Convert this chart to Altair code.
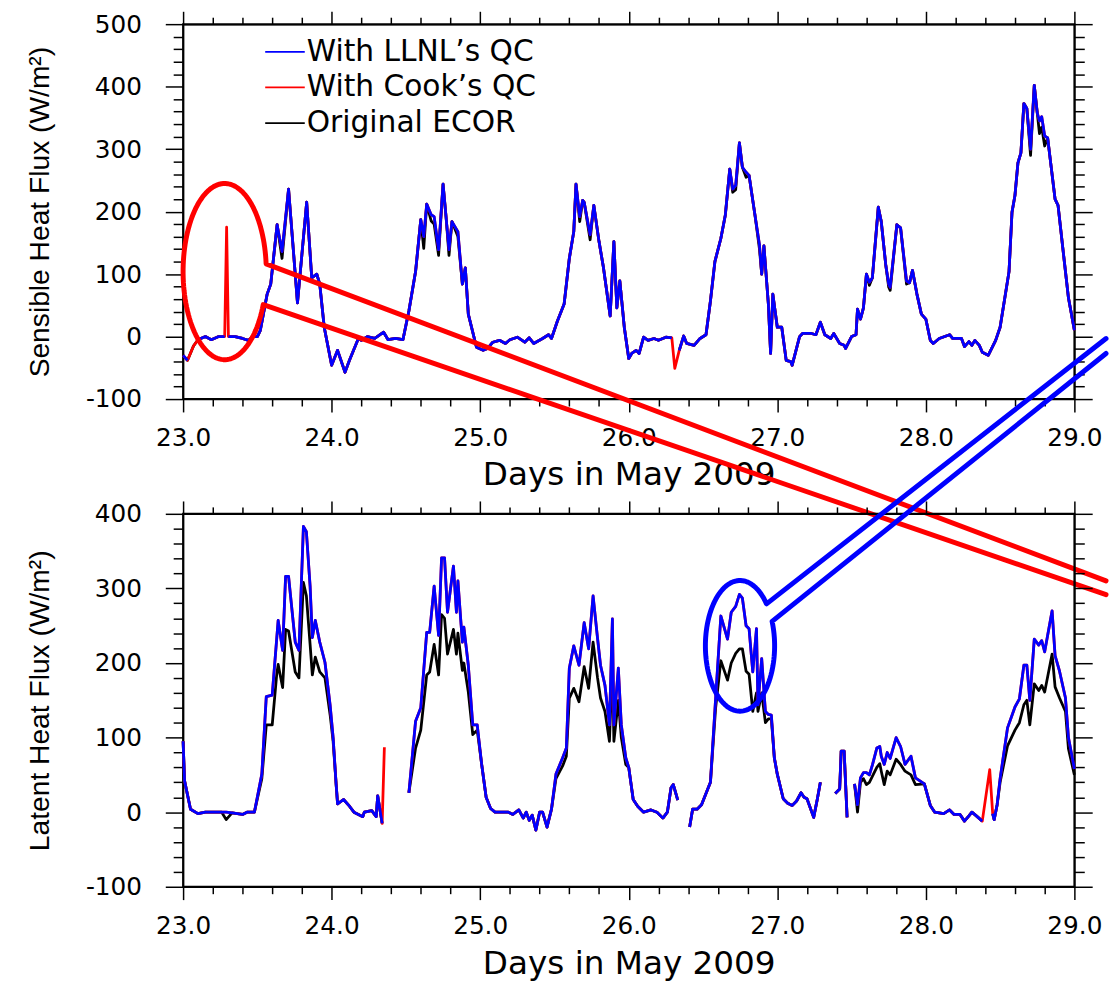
import numpy as np
import pandas as pd
import altair as alt

SERIES = ["With LLNL’s QC", "With Cook’s QC", "Original ECOR"]
COLORS = ["#0000ff", "#ff0000", "#000000"]

# ---------------- top panel: sensible heat flux (W/m2) ----------------
top_llnl = [
    (23.00, -30), (23.03, -38), (23.07, None), (23.10, -5), (23.15, 0), (23.19, -5), (23.24, 0), (23.28, 0),
    (23.293, None), (23.305, 0), (23.35, 0), (23.40, -3), (23.44, -6), (23.47, 0), (23.50, 0), (23.52, 10),
    (23.566, 68), (23.59, 84), (23.633, 179), (23.666, 136), (23.71, 236), (23.77, 54), (23.832, 215),
    (23.866, 94), (23.90, 100), (23.92, 84), (23.95, 15), (24.00, -46), (24.04, -22), (24.09, -57),
    (24.12, -38), (24.18, -3), (24.20, -6), (24.24, 0), (24.29, -3), (24.35, 7), (24.38, -5), (24.43, -3),
    (24.48, -5), (24.52, 41), (24.565, 104), (24.60, 187), (24.62, 160), (24.64, 212), (24.67, 195),
    (24.69, 192), (24.72, 139), (24.75, 244), (24.77, 192), (24.79, 139), (24.81, 184), (24.85, 168),
    (24.88, 84), (24.90, 110), (24.92, 36), (24.975, -17), (25.02, -22), (25.05, -19), (25.085, -9),
    (25.13, -6), (25.17, -11), (25.20, -5), (25.25, -1), (25.30, -9), (25.33, -2), (25.36, -11), (25.42, -3),
    (25.46, 3), (25.48, -3), (25.52, 25), (25.565, 52), (25.60, 125), (25.63, 168), (25.645, 244),
    (25.67, 192), (25.69, 218), (25.70, 215), (25.74, 163), (25.765, 210), (25.80, 152), (25.83, 110),
    (25.875, 33), (25.90, 152), (25.92, 46), (25.94, 89), (25.97, 15), (26.00, -35), (26.02, -27),
    (26.05, -22), (26.07, -27), (26.10, -1), (26.13, -6), (26.17, -3), (26.20, -6), (26.25, -1), (26.29, -2),
    (26.31, None), (26.34, -22), (26.37, 1), (26.39, -11), (26.44, -14), (26.48, -3), (26.52, 3), (26.55, 57),
    (26.58, 120), (26.62, 157), (26.65, 194), (26.68, 268), (26.70, 236), (26.72, 242), (26.745, 310),
    (26.765, 271), (26.79, 263), (26.81, 258), (26.85, 194), (26.88, 147), (26.895, 100), (26.91, 145),
    (26.94, 52), (26.955, -27), (26.97, 68), (27.00, 15), (27.03, 15), (27.06, -38), (27.09, -40),
    (27.10, -46), (27.15, 0), (27.17, 5), (27.23, 5), (27.26, 3), (27.29, 23), (27.32, 3), (27.36, -3),
    (27.38, 5), (27.42, -11), (27.45, -14), (27.46, -19), (27.50, 0), (27.53, 3), (27.54, 44), (27.56, 28),
    (27.58, 46), (27.60, 100), (27.62, 87), (27.64, 94), (27.68, 207), (27.70, 184), (27.73, 115),
    (27.75, 84), (27.76, 79), (27.805, 179), (27.83, 174), (27.87, 89), (27.89, 86), (27.91, 106),
    (27.94, 68), (27.97, 36), (28.00, 28), (28.03, -6), (28.05, -11), (28.09, -3), (28.16, 3), (28.18, -3),
    (28.24, -3), (28.26, -16), (28.29, -8), (28.31, -14), (28.33, -6), (28.36, -14), (28.38, -25),
    (28.42, -30), (28.47, -6), (28.50, 15), (28.56, 104), (28.58, 199), (28.60, 226), (28.62, 278),
    (28.64, 294), (28.66, 373), (28.68, 365), (28.705, 300), (28.73, 402), (28.75, 358), (28.765, 345),
    (28.78, 352), (28.80, 321), (28.82, 318), (28.87, 220), (28.89, 210), (28.93, 125), (28.96, 62),
    (29.00, 10),
]
top_cook_diff = {23.07: -15, 23.293: 175, 26.31: -51}
top_ecor_diff = {
    23.07: -15, 23.666: 125, 24.62: 141, 24.67: 185, 24.69: 180, 24.72: 130, 24.79: 130, 24.85: 160,
    25.67: 184, 25.74: 155, 26.70: 231, 26.72: 235, 26.79: 255, 26.88: 140, 27.62: 82, 27.75: 79,
    27.76: 74, 27.87: 84, 28.705: 290, 28.765: 325, 28.78: 335, 28.80: 305,
}

# ---------------- bottom panel: latent heat flux (W/m2) ----------------
bot_llnl = [
    (23.00, 95), (23.01, 42), (23.05, 4), (23.10, -2), (23.15, 0), (23.26, 0), (23.29, 0), (23.33, -1),
    (23.40, -3), (23.43, 0), (23.48, 0), (23.53, 51), (23.56, 155), (23.60, 157), (23.63, 232), (23.64, 257),
    (23.67, 217), (23.69, 316), (23.71, 316), (23.755, 228), (23.78, 217), (23.81, 383), (23.83, 376),
    (23.855, 303), (23.87, 234), (23.89, 257), (23.92, 228), (23.955, 201), (23.99, 143), (24.01, 100),
    (24.03, 38), (24.04, 11), (24.08, 17), (24.12, 8), (24.15, 0), (24.21, -6), (24.22, 0), (24.27, 2),
    (24.30, -6), (24.31, 22), (24.34, -15), (24.355, None), (24.44, None), (24.52, 26), (24.565, 122),
    (24.60, 140), (24.64, 241), (24.66, 241), (24.69, 303), (24.72, 237), (24.74, 341), (24.76, 341),
    (24.78, 268), (24.82, 330), (24.84, 268), (24.85, 310), (24.88, 228), (24.89, 248), (24.92, 197),
    (24.95, 117), (24.98, 117), (25.01, 64), (25.04, 20), (25.07, 5), (25.10, 0), (25.19, 0), (25.22, -3),
    (25.26, 3), (25.29, -8), (25.31, 0), (25.33, -11), (25.35, -4), (25.375, -24), (25.40, 0), (25.42, 0),
    (25.45, -20), (25.48, 4), (25.51, 51), (25.555, 73), (25.58, 86), (25.60, 193), (25.63, 223),
    (25.665, 197), (25.70, 254), (25.73, 219), (25.76, 290), (25.79, 233), (25.81, 197), (25.84, 170),
    (25.87, 117), (25.89, 259), (25.90, 117), (25.93, 193), (25.95, 117), (25.98, 73), (26.00, 60),
    (26.03, 17), (26.06, 8), (26.10, 0), (26.15, 3), (26.19, 0), (26.23, -8), (26.26, 0), (26.285, 33),
    (26.30, 37), (26.33, 16), (26.37, None), (26.41, -20), (26.43, 4), (26.46, 4), (26.49, 10), (26.52, 25),
    (26.55, 40), (26.585, 153), (26.62, 263), (26.665, 232), (26.69, 268), (26.72, 276), (26.745, 292),
    (26.765, 287), (26.79, 250), (26.81, 246), (26.835, 188), (26.86, 246), (26.87, 144), (26.895, 206),
    (26.92, 135), (26.94, 131), (26.96, 130), (26.98, 73), (27.00, 51), (27.04, 18), (27.07, 12),
    (27.10, 9), (27.13, 15), (27.16, 26), (27.18, 20), (27.20, 18), (27.245, -7), (27.27, 18), (27.29, 40),
    (27.34, None), (27.39, 25), (27.42, 31), (27.43, 82), (27.45, 82), (27.47, -7), (27.49, None),
    (27.52, 38), (27.54, 10), (27.56, 46), (27.58, 53), (27.60, 53), (27.62, 50), (27.64, 63), (27.67, 86),
    (27.69, 88), (27.70, 75), (27.72, 64), (27.74, 80), (27.76, 72), (27.80, 100), (27.83, 88), (27.86, 64),
    (27.90, 75), (27.93, 46), (27.99, 38), (28.03, 9), (28.06, 0), (28.12, -2), (28.16, 3), (28.19, -3),
    (28.23, -3), (28.26, -12), (28.29, -5), (28.31, 0), (28.34, -5), (28.38, -12), (28.43, None),
    (28.45, -2), (28.46, -10), (28.48, 10), (28.50, 45), (28.55, 113), (28.60, 141), (28.63, 152),
    (28.66, 197), (28.68, 197), (28.70, 150), (28.73, 232), (28.76, 224), (28.78, 230), (28.80, 215),
    (28.85, 270), (28.87, 210), (28.90, 189), (28.94, 153), (28.96, 100), (29.00, 58),
]
bot_cook_diff = {24.355: 87, 28.43: 57}
bot_ecor_diff = {
    23.29: -10, 23.53: 45, 23.56: 117, 23.60: 117, 23.63: 184, 23.64: 198, 23.67: 167, 23.69: 245,
    23.71: 243, 23.755: 188, 23.78: 180, 23.81: 308, 23.83: 290, 23.855: 225, 23.87: 184, 23.89: 208,
    23.92: 188, 23.955: 180, 23.99: 130, 24.01: 95,
    24.565: 86, 24.60: 110, 24.64: 184, 24.66: 188, 24.69: 225, 24.72: 184, 24.74: 265, 24.76: 260,
    24.78: 212, 24.82: 245, 24.84: 212, 24.85: 240, 24.88: 190, 24.89: 200, 24.92: 161, 24.95: 104,
    24.98: 110,
    25.51: 45, 25.555: 62, 25.58: 75, 25.60: 153, 25.63: 166, 25.665: 148, 25.70: 195, 25.73: 166,
    25.76: 228, 25.79: 180, 25.81: 153, 25.84: 135, 25.87: 95, 25.89: 200, 25.90: 95, 25.93: 150,
    25.95: 100, 25.98: 64,
    26.585: 140, 26.62: 203, 26.665: 177, 26.69: 200, 26.72: 213, 26.745: 219, 26.765: 219, 26.79: 189,
    26.81: 185, 26.835: 135, 26.86: 160, 26.87: 135, 26.895: 160, 26.92: 120, 26.94: 125, 26.96: 125,
    27.54: 0, 27.56: 40, 27.58: 45, 27.60: 37, 27.62: 40, 27.64: 48, 27.67: 60, 27.69: 65, 27.70: 55,
    27.72: 37, 27.74: 55, 27.76: 50, 27.80: 71, 27.83: 64, 27.86: 55, 27.90: 50, 27.93: 37,
    28.50: 40, 28.55: 89, 28.60: 110, 28.63: 120, 28.66: 144, 28.68: 150, 28.70: 117, 28.73: 172,
    28.76: 163, 28.78: 170, 28.80: 161, 28.85: 212, 28.87: 168, 28.90: 153, 28.94: 135, 28.96: 85,
    29.00: 50,
}

# ---------------- callout annotations (data units of each panel) ----------------
red_center, red_radii, red_arc = (23.28, 104.0), (0.28, 141.0), (5, 338)
red_far = [(29.213, -391.0), (29.213, -413.0)]
blue_center, blue_radii, blue_arc = (26.749, 223.0), (0.233, 87.6), (40, 382)
blue_far = [(29.213, 635.0), (29.213, 615.0)]

# axis tick values (major + minor)
x_ticks = [round(23 + 0.2 * i, 1) for i in range(31)]
top_y_ticks = list(range(-100, 501, 20))
bot_y_ticks = list(range(-100, 401, 20))

FONT = "DejaVu Sans"
YFONT = "Liberation Sans"


def series_frame(llnl, cook_diff, ecor_diff):
    rows = []
    for name in SERIES:
        seg = 0
        for d, v in llnl:
            if name == SERIES[0]:
                val = v
            elif name == SERIES[1]:
                val = cook_diff.get(d, v)
            else:
                val = ecor_diff.get(d, v)
            if val is None:
                seg += 1
                continue
            rows.append({"day": d, "value": val, "series": name, "seg": seg})
    return pd.DataFrame(rows)


def callout_frame(center, radii, arc, far):
    t = np.radians(np.linspace(arc[0], arc[1], 120))
    pts = [far[0]] + list(zip(center[0] + radii[0] * np.cos(t), center[1] + radii[1] * np.sin(t))) + [far[1]]
    return pd.DataFrame({"day": [p[0] for p in pts], "value": [p[1] for p in pts], "k": list(range(len(pts)))})


X_MAJOR = "abs(datum.value - round(datum.value)) < 0.001"
Y_MAJOR = "abs(datum.value % 100) < 0.001"


def x_axis(orient, title=None, title_y=86):
    kw = dict(
        orient=orient, values=x_ticks, grid=False, domainColor="black", domainWidth=1.5,
        tickColor="black", tickWidth=1.5, tickSize=alt.ExprRef(expr=f"{X_MAJOR} ? 13 : 7"),
    )
    if title:
        kw.update(
            labels=True, labelExpr=f"{X_MAJOR} ? format(datum.value, '.1f') : ''", labelFont=FONT,
            labelFontSize=25, labelColor="black", labelPadding=14, labelFlush=False, labelOverlap=False,
            title=title, titleFont=FONT, titleFontSize=33, titleFontWeight="normal", titleColor="black",
            titleX=450.5, titleY=title_y, titleBaseline="alphabetic", titleAlign="center",
        )
    else:
        kw.update(labels=False, title=None)
    return alt.Axis(**kw)


def y_axis(orient, values, height, title=None):
    kw = dict(
        orient=orient, values=values, grid=False, domainColor="black", domainWidth=1.5,
        tickColor="black", tickWidth=1.5, tickSize=alt.ExprRef(expr=f"{Y_MAJOR} ? 18 : 10"),
    )
    if title:
        kw.update(
            labels=True, labelExpr=f"{Y_MAJOR} ? '' + datum.value : ''", labelFont=FONT,
            labelFontSize=25, labelColor="black", labelPadding=24, labelOverlap=False,
            title=title, titleFont=YFONT, titleFontSize=28.5, titleFontWeight="normal", titleColor="black",
            titleX=-136, titleY=height / 2, titleAngle=270, titleBaseline="alphabetic", titleAlign="center",
        )
    else:
        kw.update(labels=False, title=None)
    return alt.Axis(**kw)


def panel(llnl, cook_diff, ecor_diff, ydom, yticks, ytitle, height, callout, ann_color, show_legend, title_y):
    df = series_frame(llnl, cook_diff, ecor_diff)
    ann = callout_frame(*callout)
    xs = alt.Scale(domain=[23, 29], nice=False, zero=False)
    ys = alt.Scale(domain=ydom, nice=False, zero=False)
    xax = x_axis("bottom", "Days in May 2009", title_y)
    yax = y_axis("left", yticks, height, ytitle)
    if show_legend:
        leg = alt.Legend(
            orient="none", legendX=82, legendY=7, title=None, symbolType="stroke", symbolSize=1600,
            symbolStrokeWidth=1.8, labelFont=FONT, labelFontSize=30, labelColor="black", labelOffset=1,
            rowPadding=0, padding=0, labelLimit=400,
        )
    else:
        leg = None
    color = alt.Color("series:N", scale=alt.Scale(domain=SERIES, range=COLORS), legend=leg)
    layers = []
    for name in reversed(SERIES):
        layers.append(
            alt.Chart(df).transform_filter(alt.datum.series == name).mark_line(strokeWidth=2.8, strokeJoin="round").encode(
                x=alt.X("day:Q", scale=xs, axis=xax),
                y=alt.Y("value:Q", scale=ys, axis=yax),
                color=color,
                detail="seg:N",
            )
        )
    layers.append(
        alt.Chart(ann).mark_line(color=ann_color, strokeWidth=5, strokeJoin="round", strokeCap="round").encode(
            x=alt.X("day:Q", scale=xs, axis=xax),
            y=alt.Y("value:Q", scale=ys, axis=yax),
            order="k:Q",
        )
    )
    inner = alt.layer(*layers)
    frame = alt.Chart(df).mark_line(opacity=0).encode(
        x=alt.X("day:Q", scale=xs, axis=x_axis("top")),
        y=alt.Y("value:Q", scale=ys, axis=y_axis("right", yticks, height)),
    )
    return alt.layer(inner, frame).resolve_scale(x="independent", y="independent").properties(width=901, height=height)


top = panel(top_llnl, top_cook_diff, top_ecor_diff, [-100, 500], top_y_ticks,
            "Sensible Heat Flux (W/m²)", 379, (red_center, red_radii, red_arc, red_far), "#ff0000", True, 86)
bottom = panel(bot_llnl, bot_cook_diff, bot_ecor_diff, [-100, 400], bot_y_ticks,
               "Latent Heat Flux (W/m²)", 377, (blue_center, blue_radii, blue_arc, blue_far), "#0000ff", False, 88)

chart = (
    alt.vconcat(top, bottom, spacing=116, bounds="flush")
    .resolve_scale(color="independent")
    .resolve_legend(color="independent")
    .properties(padding={"left": 17, "top": -4, "right": 0, "bottom": 0}, background="white")
    .configure_view(stroke="black", strokeWidth=2)
)

chart.save("out.html", embed_options={"renderer": "svg", "actions": False})
